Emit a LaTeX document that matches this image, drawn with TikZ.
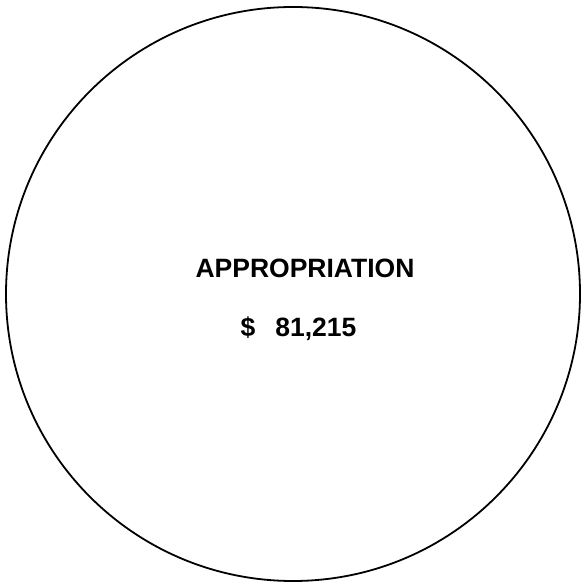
\documentclass[tikz,border=0pt]{standalone}
\usepackage{fontspec}
\setmainfont{Liberation Sans}
\tikzset{rim/.style={line width=1.8pt},
  lettering/.style={font=\fontsize{26.5}{30}\selectfont\bfseries,inner sep=0pt,anchor=base}}
\begin{document}
\begin{tikzpicture}[x=1pt,y=1pt]
            \useasboundingbox(0,0)rectangle(582,583);
            \coordinate(O)at(293,289);
            \draw[rim](O)circle(287);
            \node[lettering](title)at(305,305){APPROPRIATION};
            \node[lettering](amount)at(298.5,246){\$\hspace{20pt}81,215};
        \end{tikzpicture}
\end{document}
